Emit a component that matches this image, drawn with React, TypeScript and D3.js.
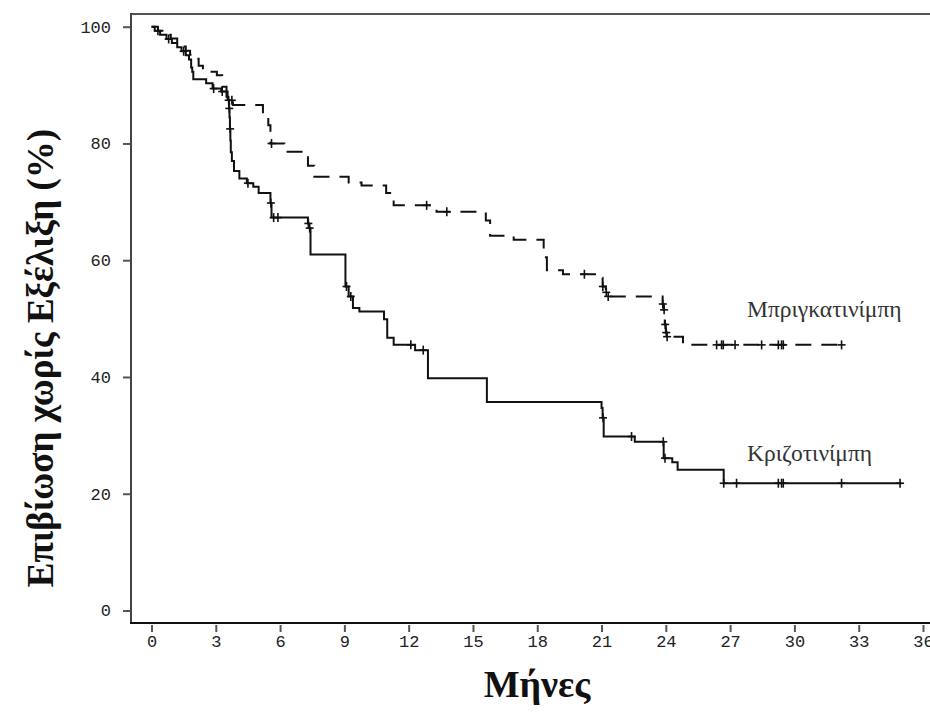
import React, { useEffect, useRef } from 'react'
import * as d3 from 'd3'

// step points: time (months) and survival (%) after each event
const crizoTimes = [0, 0.15, 0.4, 0.7, 0.95, 1.2, 1.4, 1.6, 1.75, 1.85, 1.9, 1.95, 2.55, 2.85, 3.25, 3.55, 3.62, 3.64, 3.66, 3.68, 3.7, 3.75, 3.85, 4.1, 4.45, 4.75, 5.0, 5.55, 5.6, 7.3, 7.35, 7.42, 9.05, 9.2, 9.4, 9.7, 10.85, 11.0, 11.3, 12.3, 12.9, 15.65, 21.0, 21.05, 21.1, 22.55, 23.9, 24.3, 24.55, 26.7]
const crizoSurv = [100, 99.3, 98.6, 97.9, 97.2, 96.5, 95.8, 95.1, 94.4, 93.0, 92.3, 91.0, 90.3, 89.4, 88.9, 87.5, 86.0, 84.5, 82.5, 80.5, 78.5, 77.0, 75.3, 74.0, 73.2, 72.6, 71.5, 69.8, 67.3, 66.3, 65.5, 61.0, 55.5, 53.8, 51.8, 51.2, 49.9, 46.7, 45.5, 44.6, 39.8, 35.7, 34.7, 33.0, 29.8, 28.9, 26.1, 25.4, 24.1, 21.8]
const crizoEnd = 35
const crizoCensored = [0.3, 0.8, 1.5, 2.9, 3.3, 3.63, 3.67, 4.5, 5.57, 5.7, 5.9, 7.32, 7.38, 9.1, 9.3, 12.1, 12.68, 21.07, 22.4, 23.88, 23.96, 26.7, 27.3, 29.25, 29.4, 29.48, 32.2, 34.93]

const brigaTimes = [0, 0.3, 0.6, 0.9, 1.2, 1.4, 1.6, 1.8, 2.0, 2.2, 2.4, 3.05, 3.3, 3.5, 3.8, 5.2, 5.45, 5.55, 6.2, 7.3, 7.6, 9.2, 9.8, 10.95, 11.3, 13.3, 15.6, 15.8, 16.9, 18.3, 18.45, 19.2, 20.95, 21.05, 21.2, 21.3, 23.85, 23.9, 23.95, 24.0, 24.05, 24.8]
const brigaSurv = [100, 99.3, 98.6, 98.0, 97.3, 96.6, 95.9, 95.2, 94.5, 93.3, 92.3, 91.7, 89.7, 87.4, 86.6, 84.8, 83.1, 80.0, 78.6, 76.2, 74.3, 73.3, 72.8, 71.5, 69.4, 68.3, 66.8, 64.2, 63.5, 60.5, 58.3, 57.6, 57.0, 55.5, 54.5, 53.8, 52.5, 51.5, 49.0, 47.6, 46.9, 45.5]
const brigaEnd = 32.44
const brigaCensored = [3.6, 3.75, 5.6, 12.84, 13.78, 20.2, 21.06, 21.22, 21.31, 23.86, 23.92, 23.97, 24.02, 24.06, 26.37, 26.6, 26.68, 27.23, 28.47, 29.25, 29.4, 29.48, 32.2]

const xTicks = [0, 3, 6, 9, 12, 15, 18, 21, 24, 27, 30, 33, 36]
const yTicks = [0, 20, 40, 60, 80, 100]

const seriesNames = ['Μπριγκατινίμπη', 'Κριζοτινίμπη']
const yTitle = 'Επιβίωση χωρίς Εξέλιξη (%)'
const xTitle = 'Μήνες'

function App() {
  const svgRef = useRef<SVGSVGElement>(null)

  useEffect(() => {
    const svg = d3.select(svgRef.current)
    svg.selectAll('*').remove()

    const x = d3.scaleLinear().domain([0, 36]).range([151.5, 923])
    const y = d3.scaleLinear().domain([0, 100]).range([610.5, 26.7])

    // frame
    svg.append('line').attr('x1', 131).attr('x2', 930).attr('y1', 14).attr('y2', 14)
      .attr('stroke', '#555').attr('stroke-width', 2)
    svg.append('line').attr('x1', 131).attr('x2', 131).attr('y1', 13).attr('y2', 624)
      .attr('stroke', '#444').attr('stroke-width', 2)
    svg.append('line').attr('x1', 130).attr('x2', 930).attr('y1', 623).attr('y2', 623)
      .attr('stroke', '#111').attr('stroke-width', 2)

    // axes
    const xAxis = svg.append('g')
      .attr('transform', 'translate(0, 625)')
      .call(d3.axisBottom(x).tickValues(xTicks).tickSize(7).tickPadding(3).tickFormat(d3.format('d')))
    const yAxis = svg.append('g')
      .attr('transform', 'translate(130, 0)')
      .call(d3.axisLeft(y).tickValues(yTicks).tickSize(7).tickPadding(12).tickFormat(d3.format('d')))
    ;[xAxis, yAxis].forEach((g) => {
      g.select('.domain').remove()
      g.selectAll('line').attr('stroke', '#555').attr('stroke-width', 2)
      g.selectAll('text')
        .attr('fill', '#222')
        .style('font-family', '"Liberation Mono", "DejaVu Sans Mono", monospace')
        .style('font-size', '17px')
    })

    const stepLine = d3.line<[number, number]>()
      .x((d) => x(d[0]))
      .y((d) => y(d[1]))
      .curve(d3.curveStepAfter)

    const survAt = (times: number[], surv: number[], t: number) => {
      const i = d3.bisectRight(times, t) - 1
      return surv[Math.max(0, i)]
    }

    const drawCurve = (times: number[], surv: number[], end: number, censored: number[], dash: string | null) => {
      const pts: [number, number][] = times.map((t, i) => [t, surv[i]])
      pts.push([end, surv[surv.length - 1]])
      svg.append('path')
        .attr('d', stepLine(pts))
        .attr('fill', 'none')
        .attr('stroke', '#111')
        .attr('stroke-width', 2)
        .attr('stroke-dasharray', dash)

      const marks = svg.append('g')
      censored.forEach((t) => {
        const cx = x(t)
        const cy = y(survAt(times, surv, t))
        marks.append('line').attr('x1', cx).attr('x2', cx).attr('y1', cy - 4.5).attr('y2', cy + 4.5)
          .attr('stroke', '#111').attr('stroke-width', 1.6)
        marks.append('line').attr('x1', cx - 4).attr('x2', cx + 4).attr('y1', cy).attr('y2', cy)
          .attr('stroke', '#111').attr('stroke-width', 1.6)
      })
    }

    drawCurve(crizoTimes, crizoSurv, crizoEnd, crizoCensored, null)
    drawCurve(brigaTimes, brigaSurv, brigaEnd, brigaCensored, '16,10')

    // series labels
    const labelFont = '"Liberation Serif", "Times New Roman", serif'
    svg.append('text').attr('x', 747).attr('y', 317).text(seriesNames[0])
      .attr('fill', '#333').style('font-family', labelFont).style('font-size', '23.5px')
    svg.append('text').attr('x', 747).attr('y', 461).text(seriesNames[1])
      .attr('fill', '#333').style('font-family', labelFont).style('font-size', '23.5px')

    // axis titles
    svg.append('text')
      .attr('transform', 'translate(53, 358) rotate(-90)')
      .attr('text-anchor', 'middle')
      .text(yTitle)
      .attr('fill', '#111')
      .style('font-family', labelFont).style('font-size', '37px').style('font-weight', 'bold')
    svg.append('text')
      .attr('x', 537).attr('y', 697)
      .attr('text-anchor', 'middle')
      .text(xTitle)
      .attr('fill', '#111')
      .style('font-family', labelFont).style('font-size', '38px').style('font-weight', 'bold')
  }, [])

  return (
    <svg
      ref={svgRef}
      width={930}
      height={720}
      style={{ position: 'absolute', left: 0, top: 0, background: '#fff' }}
    ></svg>
  )
}

export default App
